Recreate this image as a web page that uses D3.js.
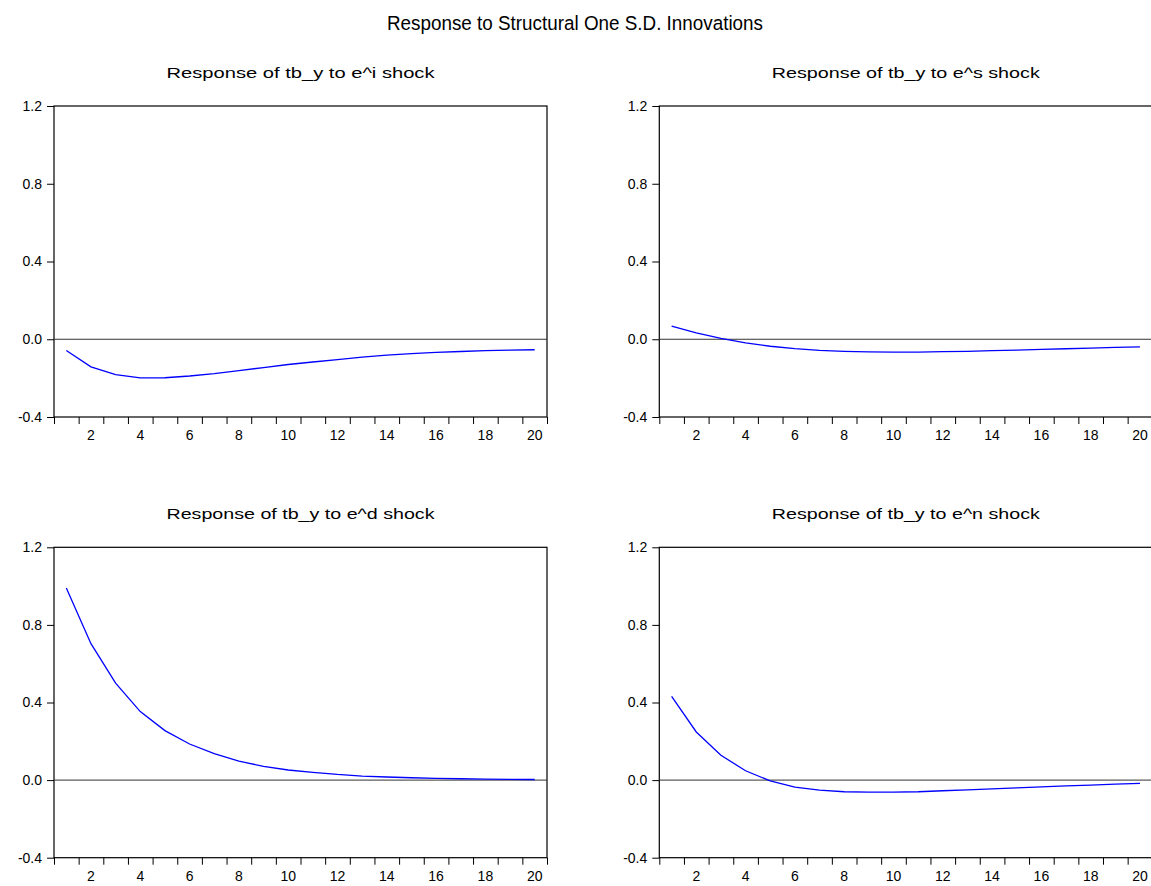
<!DOCTYPE html>
<html>
<head>
<meta charset="utf-8">
<script src="https://cdn.jsdelivr.net/npm/d3@7"></script>
<style>
  html, body { margin: 0; padding: 0; background: #fff; }
  svg { display: block; }
  text { font-family: "Liberation Sans", Arial, sans-serif; fill: #000; }
</style>
</head>
<body>
<svg id="chart" width="1151" height="886"></svg>
<script>
// ---- data ----
const periods = d3.range(1, 21);
const xTickLabels = [2, 4, 6, 8, 10, 12, 14, 16, 18, 20];
const yTickValues = [-0.4, 0.0, 0.4, 0.8, 1.2];
const mainTitle = "Response to Structural One S.D. Innovations";
const panelTitles = [
  "Response of tb_y to e^i shock",
  "Response of tb_y to e^s shock",
  "Response of tb_y to e^d shock",
  "Response of tb_y to e^n shock"
];
const respI = [-0.058, -0.142, -0.182, -0.199, -0.198, -0.189, -0.177, -0.161, -0.146, -0.130,
               -0.117, -0.105, -0.092, -0.082, -0.074, -0.068, -0.063, -0.059, -0.056, -0.054];
const respS = [0.067, 0.033, 0.004, -0.019, -0.036, -0.048, -0.057, -0.062, -0.065, -0.066,
               -0.066, -0.064, -0.062, -0.059, -0.056, -0.052, -0.049, -0.046, -0.042, -0.039];
const respD = [0.990, 0.703, 0.500, 0.353, 0.255, 0.186, 0.136, 0.098, 0.071, 0.052,
               0.040, 0.029, 0.021, 0.016, 0.012, 0.009, 0.007, 0.005, 0.004, 0.003];
const respN = [0.431, 0.248, 0.128, 0.048, -0.004, -0.036, -0.052, -0.060, -0.062, -0.062,
               -0.060, -0.055, -0.050, -0.045, -0.040, -0.035, -0.030, -0.026, -0.021, -0.017];
const seriesList = [respI, respS, respD, respN];

// ---- layout ----
const svg = d3.select("#chart");
const panels = [
  { x0: 54,    x1: 547,    y0: 106,   y1: 417 },
  { x0: 659.3, x1: 1152.3, y0: 106,   y1: 417 },
  { x0: 54,    x1: 547,    y0: 547.3, y1: 857.7 },
  { x0: 659.3, x1: 1152.3, y0: 547.3, y1: 857.7 }
];

svg.append("text")
  .attr("x", 575).attr("y", 30)
  .attr("text-anchor", "middle")
  .attr("font-size", 20.5)
  .attr("textLength", 376)
  .attr("lengthAdjust", "spacingAndGlyphs")
  .text(mainTitle);

panels.forEach((p, i) => {
  const g = svg.append("g");
  const x = d3.scaleBand().domain(periods).range([p.x0, p.x1]).padding(0);
  const xEdge = d3.scaleLinear().domain([0.5, 20.5]).range([p.x0, p.x1]);
  const y = d3.scaleLinear().domain([-0.4, 1.2]).range([p.y1, p.y0]);

  // panel title
  g.append("text")
    .attr("x", (p.x0 + p.x1) / 2).attr("y", p.y0 - 28)
    .attr("text-anchor", "middle")
    .attr("font-size", 15.5)
    .attr("textLength", 268)
    .attr("lengthAdjust", "spacingAndGlyphs")
    .text(panelTitles[i]);

  // frame
  g.append("rect")
    .attr("x", p.x0).attr("y", p.y0)
    .attr("width", p.x1 - p.x0).attr("height", p.y1 - p.y0)
    .attr("fill", "none").attr("stroke", "#000").attr("stroke-width", 1.2);

  // zero line
  g.append("line")
    .attr("x1", p.x0).attr("x2", p.x1)
    .attr("y1", y(0)).attr("y2", y(0))
    .attr("stroke", "#333").attr("stroke-width", 1);

  // y axis
  const ya = g.append("g").attr("transform", `translate(${p.x0},0)`)
    .call(d3.axisLeft(y).tickValues(yTickValues).tickFormat(d => d.toFixed(1)).tickSize(7).tickPadding(5));
  ya.select(".domain").remove();
  ya.selectAll("line").attr("stroke", "#000");
  ya.selectAll("text").attr("font-size", 14).attr("font-family", "Liberation Sans, Arial, sans-serif");

  // x axis: boundary ticks
  const xt = g.append("g").attr("transform", `translate(0,${p.y1})`)
    .call(d3.axisBottom(xEdge).tickValues(d3.range(0.5, 20.6, 1)).tickFormat("").tickSize(7));
  xt.select(".domain").remove();
  xt.selectAll("line").attr("stroke", "#000");

  // x axis: labels at band centres
  const xl = g.append("g").attr("transform", `translate(0,${p.y1})`)
    .call(d3.axisBottom(x).tickValues(xTickLabels).tickSize(0).tickPadding(13));
  xl.select(".domain").remove();
  xl.selectAll("text").attr("font-size", 14).attr("font-family", "Liberation Sans, Arial, sans-serif");

  // series line
  const line = d3.line()
    .x((d, k) => x(periods[k]) + x.bandwidth() / 2)
    .y(d => y(d));
  g.append("path")
    .datum(seriesList[i])
    .attr("d", line)
    .attr("fill", "none")
    .attr("stroke", "#0000ff")
    .attr("stroke-width", 1.3);
});
</script>
</body>
</html>
